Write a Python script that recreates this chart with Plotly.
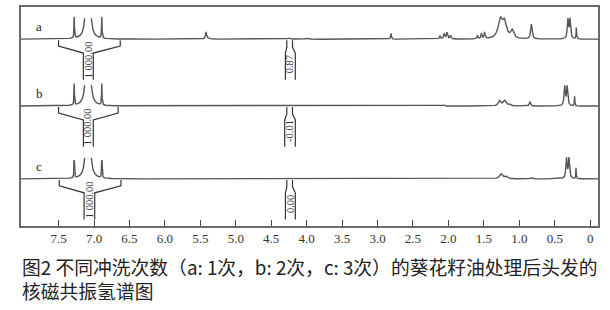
import numpy as np
import plotly.graph_objects as go

# ---------------- data ----------------
# chemical-shift ticks (ppm)
tick_vals = [7.5, 7.0, 6.5, 6.0, 5.5, 5.0, 4.5, 4.0, 3.5, 3.0, 2.5, 2.0, 1.5, 1.0, 0.5, 0.0]
tick_text = ["7.5", "7.0", "6.5", "6.0", "5.5", "5.0", "4.5", "4.0", "3.5", "3.0", "2.5", "2.0", "1.5", "1.0", "0.5", "0"]

spectrum_names = ["a", "b", "c"]

# peaks: (ppm, height, half-width) in relative intensity units
peaks_a = [(7.28, 21.5, 0.004), (6.89, 21.5, 0.004), (7.085, 751, 0.008),
           (5.42, 6.5, 0.008), (5.40, 1.0, 0.04), (4.25, 1.2, 0.02), (4.0, 1.2, 0.02),
           (2.81, 5.8, 0.006),
           (2.12, 3.5, 0.008), (2.06, 5.5, 0.01), (2.02, 6.5, 0.01), (1.97, 3.5, 0.01),
           (1.59, 3.8, 0.006), (1.535, 5.5, 0.008), (1.49, 6.5, 0.008),
           (1.27, 18, 0.035), (1.21, 16, 0.035), (1.10, 8, 0.025),
           (0.83, 15.0, 0.012),
           (0.315, 19.5, 0.01), (0.285, 19.5, 0.01), (0.195, 12.0, 0.004)]
peaks_b = [(7.28, 21.5, 0.004), (6.89, 21.5, 0.004), (7.085, 751, 0.008),
           (3.5, 0.6, 0.3), (2.06, 1.0, 0.01),
           (1.28, 5.0, 0.02), (1.21, 5.5, 0.025), (1.14, 1.8, 0.02),
           (0.85, 4.5, 0.01),
           (0.36, 19.5, 0.01), (0.325, 19.5, 0.01), (0.22, 9.5, 0.004)]
peaks_c = [(7.28, 22.0, 0.004), (6.89, 22.0, 0.004), (7.085, 751, 0.008),
           (3.5, 0.5, 0.3),
           (1.26, 5.0, 0.025), (1.19, 2.5, 0.025),
           (0.83, 1.5, 0.015),
           (0.335, 20.5, 0.01), (0.30, 20.5, 0.01), (0.20, 11.0, 0.004)]

# integrals: (label, top-left ppm, top-right ppm, stem-left ppm, stem-right ppm)
integrals_a = [("1 000.00", 7.50, 6.63, 7.15, 7.01), ("0.87", 4.28, 4.20, 4.30, 4.16)]
integrals_b = [("1 000.00", 7.50, 6.66, 7.15, 7.01), ("-0.01", 4.28, 4.20, 4.31, 4.16)]
integrals_c = [("1 000.00", 7.49, 6.62, 7.14, 6.99), ("0.00", 4.28, 4.20, 4.30, 4.16)]

caption_lines = ["图2 不同冲洗次数（a: 1次，b: 2次，c: 3次）的葵花籽油处理后头发的",
                 "核磁共振氢谱图"]

# ---------------- layout parameters ----------------
offsets = [188.5, 121.0, 47.5]     # vertical stacking of the three traces
clip_h = 23.0
x_lo, x_hi = 8.03, -0.11
line_col = "#555555"
frame_col = "#6a6a6a"
serif = "Liberation Serif, Times New Roman, serif"

ppm = np.arange(x_lo, x_hi - 0.001, -0.002)

fig = go.Figure()

for name, peaks, integ, off in zip(spectrum_names, [peaks_a, peaks_b, peaks_c],
                                   [integrals_a, integrals_b, integrals_c], offsets):
    y = np.zeros_like(ppm)
    for c, h, g in peaks:
        y += h * g * g / ((ppm - c) ** 2 + g * g)
    yy = np.where(y > clip_h, np.nan, y + off)
    fig.add_trace(go.Scatter(x=ppm, y=yy, mode="lines",
                             line=dict(color=line_col, width=1.4),
                             connectgaps=False, hoverinfo="skip", showlegend=False))
    # label a/b/c
    fig.add_annotation(x=7.77, y=off + 12.5, text=name, showarrow=False,
                       font=dict(family=serif, size=13, color="#222"))
    # integral brackets
    for lab, tl, tr, sl, sr in integ:
        big = abs(tl - tr) > 0.3
        d1, d2, d3 = (1, 7, 14) if big else (1, 8, 14)
        bottom = 41
        xs = [tl, tl, sl, sl, None, tr, tr, sr, sr]
        ys = [off - d1, off - d2, off - d3, off - bottom, None,
              off - d1, off - d2, off - d3, off - bottom]
        fig.add_trace(go.Scatter(x=xs, y=ys, mode="lines",
                                 line=dict(color="#333", width=1.2),
                                 hoverinfo="skip", showlegend=False))
        fig.add_annotation(x=(sl + sr) / 2, y=off - (21 if big else 25), text=lab,
                           textangle=-90, showarrow=False,
                           font=dict(family=serif, size=10.5, color="#333"))

fig.add_annotation(xref="paper", yref="paper", x=-0.002, y=(226 - 279) / 221,
                   xanchor="left", yanchor="middle", align="left",
                   text="<br>".join(caption_lines), showarrow=False,
                   font=dict(family="Noto Sans CJK SC", size=18.8, color="#222"))

fig.update_layout(
    width=610, height=310,
    margin=dict(l=21, r=12, t=5, b=84),
    paper_bgcolor="white", plot_bgcolor="white",
    xaxis=dict(range=[x_lo, x_hi], tickvals=tick_vals, ticktext=tick_text,
               ticks="inside", ticklen=6, tickwidth=1, tickcolor="#444",
               tickfont=dict(family=serif, size=13, color="#333"),
               showline=True, mirror=True, linecolor=frame_col, linewidth=1.5,
               showgrid=False, zeroline=False),
    yaxis=dict(range=[0, 221], showticklabels=False, ticks="",
               showline=True, mirror=True, linecolor=frame_col, linewidth=1.5,
               showgrid=False, zeroline=False),
)

fig.write_html("out.html")
